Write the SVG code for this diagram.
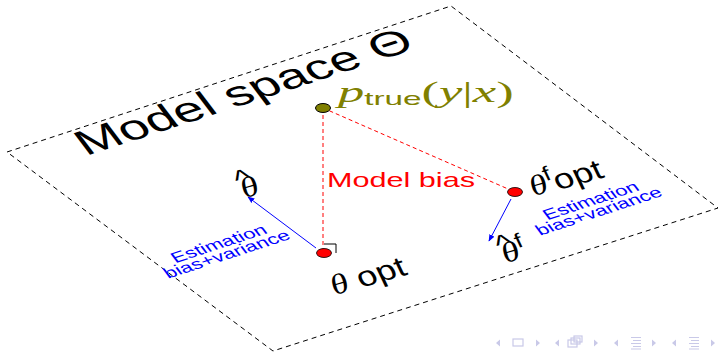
<svg xmlns="http://www.w3.org/2000/svg" width="720" height="353" viewBox="0 0 720 353">
<defs>
<style>
.plane{fill:none;stroke:#000;stroke-width:1;stroke-dasharray:5 4}
.bias{fill:none;stroke:#ff0000;stroke-width:1;stroke-dasharray:4 3}
.est{fill:none;stroke:#0000ff;stroke-width:1}
.sans{font-family:"Liberation Sans","DejaVu Sans",sans-serif}
.math{font-family:"Liberation Serif","DejaVu Serif",serif;font-style:italic}
.rm{font-family:"Liberation Serif","DejaVu Serif",serif}
.blue{fill:#0000ff}
.nav{fill:#c9c9e8}
.navs{fill:none;stroke:#c9c9e8;stroke-width:1.2}
</style>
<marker id="ah" viewBox="0 0 10 10" refX="9" refY="5" markerWidth="7" markerHeight="7" orient="auto" markerUnits="userSpaceOnUse">
<path d="M0,1 L10,5 L0,9 z" fill="#0000ff"/>
</marker>
</defs>
<rect width="720" height="353" fill="#fff"/>

<g id="plane">
<polygon class="plane" points="7,152 451,6 718,208 273,351"/>
</g>

<g id="title">
<text class="sans" font-size="50" textLength="348" lengthAdjust="spacingAndGlyphs" transform="matrix(0.951,-0.309,0.472,0.622,86,156)">Model space Θ</text>
</g>

<g id="connectors">
<line class="bias" x1="323" y1="108" x2="323" y2="253"/>
<line class="bias" x1="323" y1="108" x2="515" y2="192"/>
<polyline points="324,244 336,244 336,253" fill="none" stroke="#000" stroke-width="1"/>
<line class="est" x1="316" y1="248" x2="248" y2="197" marker-end="url(#ah)"/>
<line class="est" x1="511" y1="199" x2="489" y2="241" marker-end="url(#ah)"/>
</g>

<g id="model-bias">
<text class="sans" x="327" y="187" font-size="21" fill="#ff0000" textLength="148" lengthAdjust="spacingAndGlyphs">Model bias</text>
</g>

<g id="ptrue">
<ellipse cx="323" cy="108" rx="7.5" ry="4.5" fill="#808000" stroke="#000" stroke-width="1"/>
<text transform="translate(338,102) scale(1.75,1)" fill="#808000" font-size="30"><tspan class="math">p</tspan><tspan class="sans" font-size="19" dy="3">true</tspan><tspan class="rm" dy="-3">(</tspan><tspan class="math">y</tspan><tspan class="rm">|</tspan><tspan class="math">x</tspan><tspan class="rm">)</tspan></text>
</g>

<g id="theta-opt">
<ellipse cx="324" cy="253" rx="7.5" ry="4.5" fill="#ff0000" stroke="#000" stroke-width="0.8"/>
<text transform="matrix(1.22,-0.342,0.445,0.94,335,295)" font-size="28"><tspan class="math">θ</tspan><tspan class="sans"> opt</tspan></text>
</g>

<g id="theta-f-opt">
<ellipse cx="515" cy="192" rx="7.5" ry="4.5" fill="#ff0000" stroke="#000" stroke-width="0.8"/>
<text transform="matrix(1.22,-0.342,0.445,0.94,534,196)" font-size="28"><tspan class="math">θ</tspan><tspan class="sans" font-size="20" dy="-11">f</tspan><tspan class="sans" dy="12">opt</tspan></text>
</g>

<g id="theta-hat">
<text transform="matrix(1.22,-0.342,0.445,0.94,245,198)" font-size="28"><tspan class="math">θ</tspan></text>
<text transform="matrix(1.22,-0.342,0.445,0.94,245,198)" font-size="26" class="sans" x="-1" y="-10">^</text>
</g>

<g id="theta-hat-f">
<text transform="matrix(1.22,-0.342,0.445,0.94,506,263)" font-size="28"><tspan class="math">θ</tspan><tspan class="sans" font-size="20" dy="-11">f</tspan></text>
<text transform="matrix(1.22,-0.342,0.445,0.94,506,263)" font-size="26" class="sans" x="-1" y="-10">^</text>
</g>

<g id="est-left">
<text class="sans blue" font-size="21" text-anchor="middle" transform="matrix(0.951,-0.309,0.472,0.622,222,248)"><tspan x="0" y="0">Estimation</tspan><tspan x="0" y="17">bias+variance</tspan></text>
</g>

<g id="est-right">
<text class="sans blue" font-size="21" text-anchor="middle" transform="matrix(0.951,-0.309,0.472,0.622,594,205)"><tspan x="0" y="0">Estimation</tspan><tspan x="0" y="17">bias+variance</tspan></text>
</g>

<g id="nav">
<path class="nav" d="M496,343 l4,-3.5 v7 z M540,343 l-4,-3.5 v7 z"/>
<rect class="navs" x="513" y="339" width="10" height="7"/>
<path class="nav" d="M555,343 l4,-3.5 v7 z M598,343 l-4,-3.5 v7 z"/>
<rect class="navs" x="568" y="340" width="9" height="7"/>
<rect class="navs" x="571" y="338" width="9" height="6"/>
<rect class="navs" x="574" y="336" width="8" height="6"/>
<path class="nav" d="M614,343 l4,-3.5 v7 z M656,343 l-4,-3.5 v7 z"/>
<path class="navs" d="M631,337.5 h10 M633,340.5 h8 M631,343.5 h10 M633,346.5 h8 M631,349 h10"/>
<path class="nav" d="M672,343 l4,-3.5 v7 z M715,343 l-4,-3.5 v7 z"/>
<path class="navs" d="M689,337.5 h10 M691,340.5 h8 M689,343.5 h10 M691,346.5 h8 M689,349 h10"/>
</g>
</svg>
